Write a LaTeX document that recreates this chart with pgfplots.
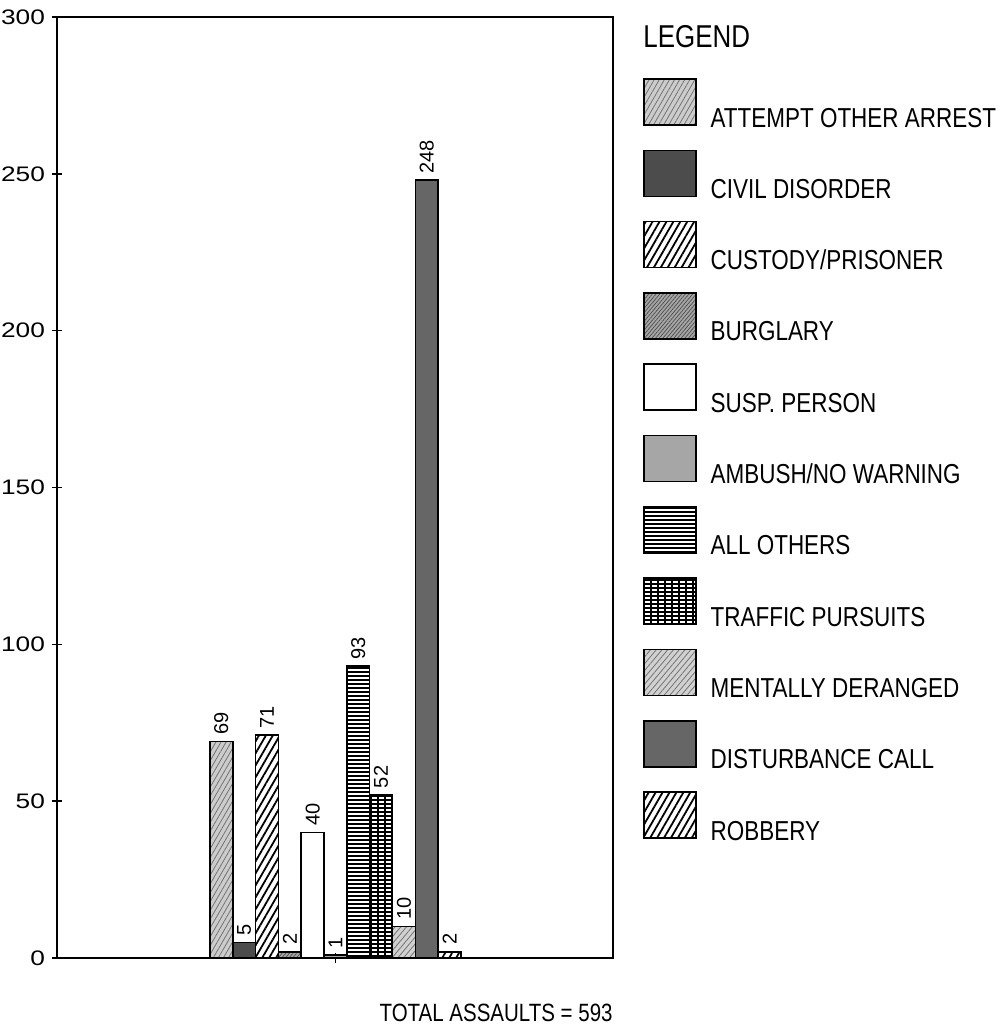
\documentclass[border=0pt]{standalone}
\usepackage{fontspec}
\setmainfont{Liberation Sans}
\newfontfamily\condfont{Liberation Sans}[FakeStretch=0.82]
\newfontfamily\widefont{Liberation Sans}[FakeStretch=1.25]
\usepackage{pgfplots}
\pgfplotsset{compat=1.18}
\usetikzlibrary{patterns,patterns.meta}

\begin{document}
\begin{tikzpicture}
\begin{axis}[
    scale only axis,
    width=278pt, height=470.5pt,
    ybar, bar width=1, bar shift=0pt,
    xmin=-6.2, xmax=18.16,
    ymin=0, ymax=300,
    ytick={0,50,...,300},
    xtick={6}, xticklabels={},
    tick pos=left,
    tick align=center,
    major tick length=5pt,
    tick style={black, line width=0.8pt},
    axis line style={line width=1pt},
    /pgf/number format/assume math mode=true,
    yticklabel style={font=\widefont\fontsize{10.5}{12}\selectfont, xshift=0pt},
    nodes near coords,
    every node near coord/.append style={rotate=90, anchor=west, inner xsep=3pt, inner ysep=0pt,
        font=\fontsize{10}{11}\selectfont, black},
    clip=false,
    legend image code/.code={
        \pgfpathrectangle{\pgfpoint{0pt}{-6pt}}{\pgfpoint{26pt}{35.65pt}}\pgfusepath{discard}
        \draw[#1] (0pt,1pt) rectangle (26pt,24pt);
    },
    legend style={at={(1,1)}, anchor=north west, xshift=15pt, yshift=-25.35pt,
        draw=none, fill=none, inner sep=0pt, outer sep=0pt,
        row sep=0pt, column sep=5pt,
        font=\condfont\fontsize{13.7}{16}\selectfont,
        cells={anchor=base west, inner sep=0pt}},
    every axis plot/.append style={draw=black, line width=0.8pt, bar shift=0pt},
]
\coordinate (bl) at (rel axis cs:0,0);

\addplot[fill=black!20, postaction={pattern={Lines[angle=60,distance=2.2pt,line width=0.4pt]}, pattern color=black!55}]
    coordinates {(1,69)};
\addlegendentry{ATTEMPT OTHER ARREST}
\addplot[fill=black!70] coordinates {(2,5)};
\addlegendentry{CIVIL DISORDER}
\addplot[fill=white, postaction={pattern={Lines[angle=60,distance=3pt,line width=0.9pt]}, pattern color=black}]
    coordinates {(3,71)};
\addlegendentry{CUSTODY/PRISONER}
\addplot[fill=black!35, postaction={pattern={Lines[angle=50,distance=1.4pt,line width=0.35pt]}, pattern color=black!70}]
    coordinates {(4,2)};
\addlegendentry{BURGLARY}
\addplot[fill=white] coordinates {(5,40)};
\addlegendentry{SUSP. PERSON}
\addplot[fill=black!35] coordinates {(6,1)};
\addlegendentry{AMBUSH/NO WARNING}
\addplot[fill=white, postaction={pattern={Lines[angle=0,distance=2pt,line width=0.7pt]}, pattern color=black}]
    coordinates {(7,93)};
\addlegendentry{ALL OTHERS}
\addplot[fill=white, postaction={pattern={Lines[angle=0,distance=2pt,line width=0.7pt]}, pattern color=black},
    postaction={pattern={Lines[angle=90,distance=3.5pt,line width=0.6pt]}, pattern color=black}]
    coordinates {(8,52)};
\addlegendentry{TRAFFIC PURSUITS}
\addplot[fill=black!18, postaction={pattern={Lines[angle=50,distance=2.2pt,line width=0.4pt]}, pattern color=black!55}]
    coordinates {(9,10)};
\addlegendentry{MENTALLY DERANGED}
\addplot[fill=black!60] coordinates {(10,248)};
\addlegendentry{DISTURBANCE CALL}
\addplot[fill=white, postaction={pattern={Lines[angle=60,distance=3pt,line width=0.9pt]}, pattern color=black}]
    coordinates {(11,2)};
\addlegendentry{ROBBERY}

\node[anchor=base west, xshift=15pt, yshift=-15.5pt, inner sep=0pt,
    font=\condfont\fontsize{15.8}{18}\selectfont] at (rel axis cs:1,1) {LEGEND};
\node[anchor=base east, yshift=-31.5pt, inner sep=0pt,
    font=\condfont\fontsize{12.5}{14}\selectfont] at (rel axis cs:1,0) {TOTAL ASSAULTS = 593};
\end{axis}
\pgfresetboundingbox
\path (bl) ++(-28.5pt,-35pt) rectangle ++(501.5pt,514pt);
\end{tikzpicture}
\end{document}
